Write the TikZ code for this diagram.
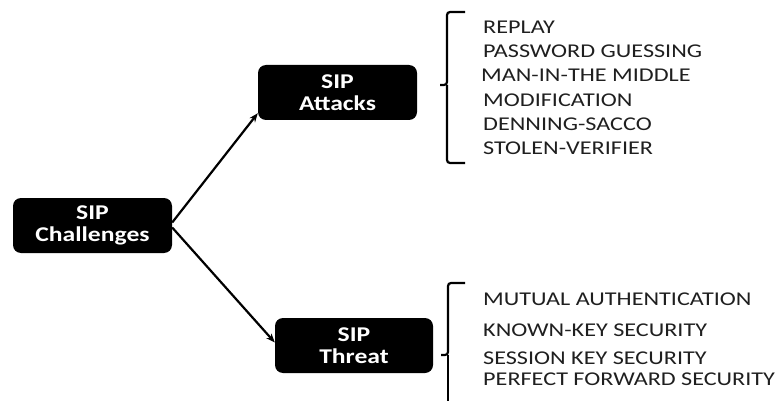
\documentclass[tikz,border=0pt]{standalone}
\usepackage{fontspec}
\setmainfont{Carlito}
\usetikzlibrary{arrows.meta}
\begin{document}
\begin{tikzpicture}[x=1pt,y=-1pt,
  box/.style={fill=black,text=white,rounded corners=8pt,font=\addfontfeature{FakeStretch=1.22}\fontsize{21}{22}\selectfont\bfseries,align=center,inner sep=0pt},
  item/.style={anchor=west,text=black!88,font=\addfontfeature{FakeStretch=1.24}\fontsize{19.5}{20}\selectfont,inner sep=0pt},
  conn/.style={line width=2.2pt,-{Stealth[length=9pt,width=7pt]}},
  brace/.style={line width=2.2pt,rounded corners=3pt}]
\useasboundingbox (0,0) rectangle (782,401);
\node[box,minimum width=159pt,minimum height=55pt] (ch) at (92.5,225.5) {SIP\\Challenges};
\node[box,minimum width=159pt,minimum height=55pt] (att) at (337.5,92.5) {SIP\\Attacks};
\node[box,minimum width=158pt,minimum height=55pt] (thr) at (354,345.5) {SIP\\Threat};
\draw[conn] ([yshift=3pt]ch.east) -- ([yshift=7pt]att.south west);
\draw[conn] ([yshift=-2pt]ch.east) -- ([yshift=3pt]thr.west);
% top bracket
\draw[brace] (465,12) -- (447,12) -- (447,85) -- (440,85);
\draw[brace] (465,163) -- (447,163) -- (447,85);
% bottom bracket
\draw[brace] (465,283) -- (448,283) -- (448,355) -- (441,355);
\draw[line width=2.2pt] (448,355) -- (448,401);
\node[item] (a1) at (483,27) {REPLAY};
\node[item] (a2) at (483,51) {PASSWORD GUESSING};
\node[item] (a3) at (481,75) {MAN-IN-THE MIDDLE};
\node[item] (a4) at (483,100) {MODIFICATION};
\node[item] (a5) at (483,124) {DENNING-SACCO};
\node[item] (a6) at (483,148) {STOLEN-VERIFIER};
\node[item] (t1) at (483,299) {MUTUAL AUTHENTICATION};
\node[item] (t2) at (483,330) {KNOWN-KEY SECURITY};
\node[item] (t3) at (483,358) {SESSION KEY SECURITY};
\node[item] (t4) at (483,379) {PERFECT FORWARD SECURITY};
\end{tikzpicture}
\end{document}
